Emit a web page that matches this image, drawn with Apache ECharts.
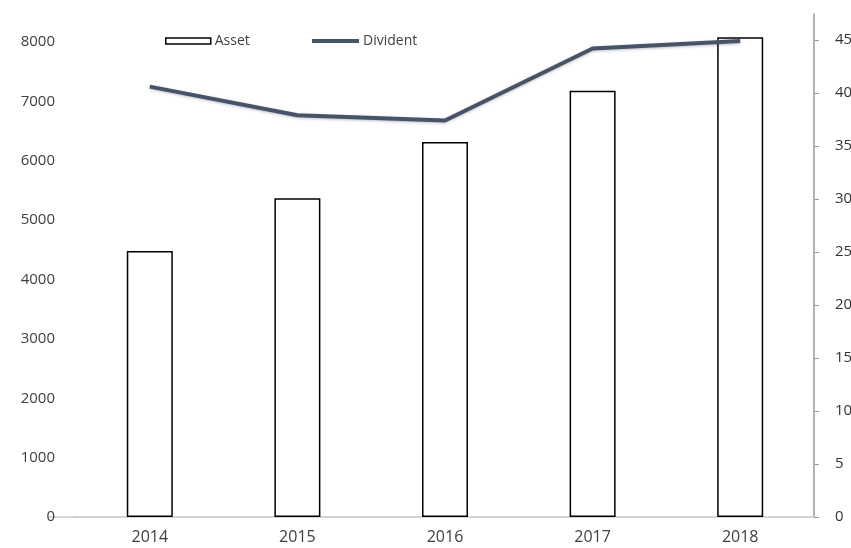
<!DOCTYPE html>
<html>
<head>
<meta charset="utf-8">
<script src="https://cdn.jsdelivr.net/npm/echarts@6/dist/echarts.min.js"></script>
<style>html,body{margin:0;padding:0;background:#fff;}#c{width:851px;height:548px;}</style>
</head>
<body>
<div id="c"></div>
<script>
const categories = ['2014', '2015', '2016', '2017', '2018'];
const assetValues = [4480, 5370, 6315, 7180, 8080];
const dividentValues = [40.6, 37.9, 37.4, 44.2, 44.9];
const leftTicks = [0, 1000, 2000, 3000, 4000, 5000, 6000, 7000, 8000];
const rightTicks = [0, 5, 10, 15, 20, 25, 30, 35, 40, 45];

const chart = echarts.init(document.getElementById('c'));
const font = '"Open Sans", "DejaVu Sans", sans-serif';
chart.setOption({
  animation: false,
  backgroundColor: '#fff',
  grid: { left: 76, right: 37, top: 14, bottom: 31, containLabel: false, outerBoundsMode: 'none' },
  graphic: [
    { type: 'line', shape: { x1: 48, y1: 517, x2: 77, y2: 517 }, style: { stroke: '#c8c8c8', lineWidth: 1.5 }, silent: true }
  ],
  legend: [
    {
      left: 160, top: 29,
      itemWidth: 45, itemHeight: 6, itemGap: 4,
      textStyle: { fontFamily: font, fontSize: 14, color: '#404040', padding: [0, 0, 0, -1] },
      data: [{ name: 'Asset', icon: 'rect', itemStyle: { color: '#fff', borderColor: '#000', borderWidth: 1.5 } }]
    },
    {
      left: 307, top: 29,
      itemWidth: 47, itemHeight: 4, itemGap: 4,
      textStyle: { fontFamily: font, fontSize: 14, color: '#404040', padding: [0, 0, 0, -1] },
      data: [{ name: 'Divident', icon: 'rect', itemStyle: { color: '#44546a' } }]
    }
  ],
  xAxis: {
    type: 'category',
    data: categories,
    axisLine: { lineStyle: { color: '#c8c8c8', width: 1.5 } },
    axisTick: { show: false },
    axisLabel: { fontFamily: '"Liberation Sans Narrow", "Open Sans", sans-serif', fontSize: 16, color: '#404040', margin: 12 }
  },
  yAxis: [
    {
      type: 'value',
      min: 0, max: 8471, interval: 1000,
      splitLine: { show: false },
      axisLine: { show: false },
      axisTick: { show: false },
      axisLabel: {
        fontFamily: font, fontSize: 15, color: '#404040', margin: 21, showMaxLabel: false,
        formatter: v => leftTicks.includes(v) ? String(v) : ''
      }
    },
    {
      type: 'value',
      position: 'right',
      min: 0, max: 47.45, interval: 5,
      splitLine: { show: false },
      axisLine: { show: true, lineStyle: { color: '#9a9a9a', width: 1.5 } },
      axisTick: { show: true, length: 5, lineStyle: { color: '#9a9a9a' } },
      axisLabel: {
        fontFamily: font, fontSize: 15, color: '#333', margin: 21, showMaxLabel: false,
        formatter: v => rightTicks.includes(v) ? String(v) : ''
      }
    }
  ],
  series: [
    {
      name: 'Asset',
      type: 'bar',
      yAxisIndex: 0,
      data: assetValues,
      barWidth: 46,
      itemStyle: { color: '#fff', borderColor: '#000', borderWidth: 1.5 }
    },
    {
      name: 'Divident',
      type: 'line',
      yAxisIndex: 1,
      data: dividentValues,
      symbol: 'none',
      lineStyle: { color: '#44546a', width: 4, shadowColor: 'rgba(0,0,0,0.25)', shadowBlur: 3, shadowOffsetY: 1 },
      itemStyle: { color: '#44546a' }
    }
  ]
});
</script>
</body>
</html>
